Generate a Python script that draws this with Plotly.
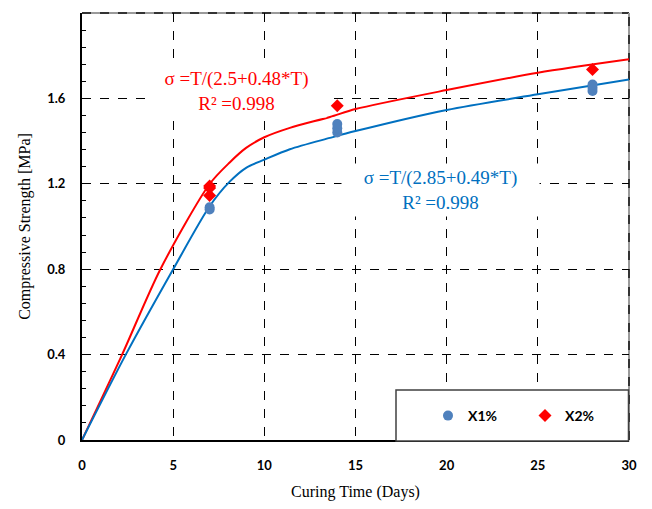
import plotly.graph_objects as go

# fitted curve readings (Curing time T in days -> strength MPa)
fit_T_x2 = [0, 2.2, 4.3, 7, 8.1, 9, 10, 11.4, 13.6, 15, 20, 25, 30]
fit_x2 = [0, 0.40, 0.80, 1.199, 1.30, 1.368, 1.418, 1.462, 1.513, 1.55, 1.639, 1.72, 1.783]
fit_T_x1 = [0, 2.4, 5.0, 7, 8.1, 9, 10, 11.4, 13.6, 15, 20, 25, 30]
fit_x1 = [0, 0.40, 0.80, 1.095, 1.21, 1.275, 1.313, 1.362, 1.415, 1.447, 1.546, 1.619, 1.689]

# measured points
x1_T = [7, 7, 14, 14, 14, 28, 28, 28]
x1_val = [1.08, 1.09, 1.44, 1.46, 1.48, 1.635, 1.65, 1.665]
x2_T = [7, 7, 7, 14, 28]
x2_val = [1.145, 1.18, 1.19, 1.565, 1.735]

x_ticks = [0, 5, 10, 15, 20, 25, 30]
y_ticks = [0, 0.4, 0.8, 1.2, 1.6, 2]
y_labels = ["0", "0.4", "0.8", "1.2", "1.6", "2"]

RED = "#FF0000"
BLUE_LINE = "#0070C0"
BLUE_MK = "#4F81BD"

# page offset (browser body margin) = 8px; plot area in screenshot: x 82..629, y 13..440
OFF = 8
L, T_, PW, PH = 82 - OFF, 13 - OFF, 547, 427
W, H = 652 - OFF, 509 - OFF


def px(xs):
    return (xs - 82) / PW


def py(ys):
    return (440 - ys) / PH


fig = go.Figure()
fig.add_trace(go.Scatter(x=fit_T_x2, y=fit_x2, mode="lines", line=dict(color=RED, width=2, shape="spline", smoothing=0.8),
                         showlegend=False, hoverinfo="skip"))
fig.add_trace(go.Scatter(x=fit_T_x1, y=fit_x1, mode="lines", line=dict(color=BLUE_LINE, width=2, shape="spline", smoothing=0.8),
                         showlegend=False, hoverinfo="skip"))
fig.add_trace(go.Scatter(x=x1_T, y=x1_val, mode="markers", name="X1%",
                         marker=dict(symbol="circle", color=BLUE_MK, size=10)))
fig.add_trace(go.Scatter(x=x2_T, y=x2_val, mode="markers", name="X2%",
                         marker=dict(symbol="diamond", color=RED, size=10)))

tickfont = dict(family="Lato, Liberation Sans, sans-serif", size=13, color="black", weight="bold")
titlefont = dict(family="Liberation Serif, Times New Roman, serif", size=16, color="black")

fig.update_layout(
    width=W, height=H,
    margin=dict(l=L, r=W - L - PW, t=T_, b=H - T_ - PH, autoexpand=False),
    paper_bgcolor="white", plot_bgcolor="white",
    xaxis=dict(range=[0, 30], tickvals=x_ticks, ticktext=[str(v) for v in x_ticks], tickfont=tickfont,
               showgrid=True, gridcolor="black", griddash="dash", gridwidth=1,
               showline=True, linecolor="black", linewidth=2, zeroline=False, ticks="",
               ticklabelstandoff=12, automargin=False,
               title=dict(text="Curing Time (Days)", font=titlefont, standoff=14)),
    yaxis=dict(range=[0, 2], tickvals=y_ticks, ticktext=y_labels, tickfont=tickfont,
               showgrid=True, gridcolor="black", griddash="dash", gridwidth=1,
               showline=True, linecolor="black", linewidth=2, zeroline=False,
               ticks="inside", ticklen=5, tickcolor="black", ticklabelstandoff=12, automargin=False,
               minor=dict(dtick=0.08, tick0=0, ticks="inside", ticklen=4, tickcolor="black", showgrid=False),
               title=dict(text="Compressive Strength [MPa]", font=titlefont, standoff=13)),
    showlegend=True,
    legend=dict(orientation="h", x=px(428), y=py(416), xanchor="left", yanchor="middle",
                bgcolor="rgba(0,0,0,0)", borderwidth=0,
                font=dict(family="Lato, Liberation Sans, sans-serif", size=14, color="black", weight="bold"),
                entrywidth=52, itemwidth=30),
)

# top and right plot border (dashed dark)
for sh in [dict(x0=0, x1=1, y0=1, y1=1), dict(x0=1, x1=1, y0=0, y1=1)]:
    fig.add_shape(type="line", xref="paper", yref="paper", line=dict(color="#9a9a9a", width=2), layer="below", **sh)
    fig.add_shape(type="line", xref="paper", yref="paper", line=dict(color="#333333", width=2, dash="dash"), layer="below", **sh)

# legend box
fig.add_shape(type="rect", xref="paper", yref="paper", x0=px(396), x1=px(628.5), y0=py(441), y1=py(390),
              line=dict(color="#404040", width=1.5), fillcolor="white", layer="above")

annfont_r = dict(family="Liberation Serif, Times New Roman, serif", size=19, color=RED)
annfont_b = dict(family="Liberation Serif, Times New Roman, serif", size=19, color=BLUE_LINE)
fig.add_annotation(xref="paper", yref="paper", x=px(236), y=py(91), xanchor="center", yanchor="middle",
                   text="σ =T/(2.5+0.48*T)<br>R² =0.998", showarrow=False, font=annfont_r,
                   bgcolor="white", width=177, height=50, align="center")
fig.add_annotation(xref="paper", yref="paper", x=px(440), y=py(190), xanchor="center", yanchor="middle",
                   text="σ =T/(2.85+0.49*T)<br>R² =0.998", showarrow=False, font=annfont_b,
                   bgcolor="white", width=195, height=50, align="center")

fig.write_html("out.html")
